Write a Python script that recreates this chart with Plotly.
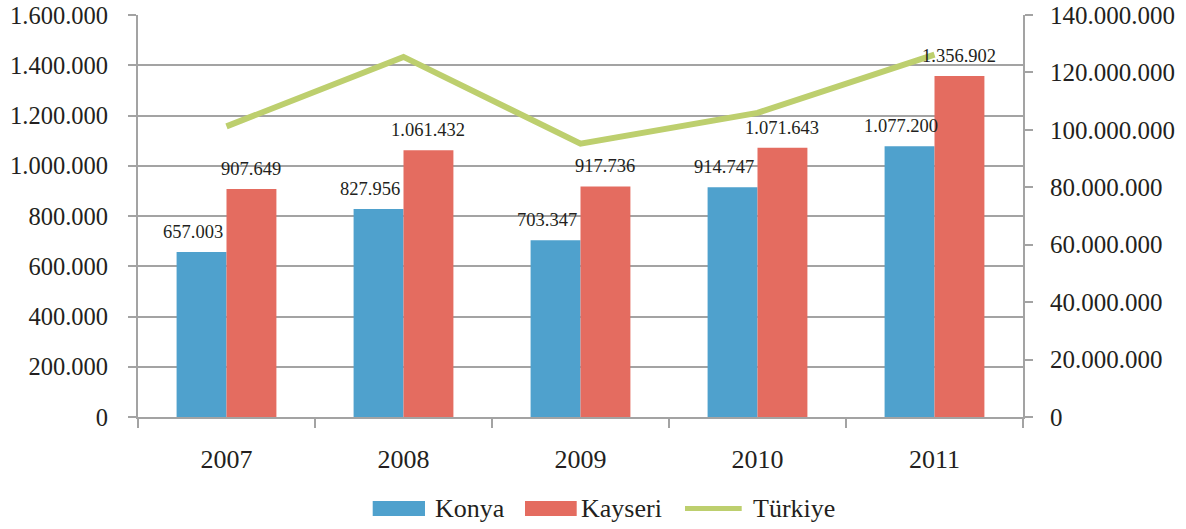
import plotly.graph_objects as go

# Yearly figures
years = ["2007", "2008", "2009", "2010", "2011"]
konya = [657003, 827956, 703347, 914747, 1077200]
kayseri = [907649, 1061432, 917736, 1071643, 1356902]
turkiye = [101200000, 125400000, 95200000, 105900000, 126200000]

series_names = ["Konya", "Kayseri", "Türkiye"]
colors = {"Konya": "#4FA1CD", "Kayseri": "#E46C60", "Türkiye": "#BDCF6E"}

W, H = 1186, 529
L, R, T, B = 138, 163, 15, 112
PW, PH = W - L - R, H - T - B

FONT = "Liberation Serif, Times New Roman, serif"
TXT = "#231F20"
AX = "#A3A3A3"


def fmt(v):
    return f"{v:,}".replace(",", ".")


def px_x(x):
    return (x - L) / PW


def px_y(y):
    return (H - B - y) / PH


fig = go.Figure()
fig.add_trace(go.Bar(x=years, y=konya, name="Konya",
                     marker=dict(color=colors["Konya"], line=dict(width=0))))
fig.add_trace(go.Bar(x=years, y=kayseri, name="Kayseri",
                     marker=dict(color=colors["Kayseri"], line=dict(width=0))))
fig.add_trace(go.Scatter(x=years, y=turkiye, name="Türkiye", yaxis="y2",
                         mode="lines",
                         line=dict(color=colors["Türkiye"], width=6)))

# value labels above the bars (x given as category index)
bar_px = PW / len(years) * (1 - 0.436) / 2
annotations = []
for i, v in enumerate(konya):
    annotations.append(dict(x=i, y=v, xref="x", yref="y", text=fmt(v),
                            showarrow=False, xshift=-bar_px / 2 - 9, yshift=20,
                            yanchor="middle",
                            font=dict(family=FONT, size=18.5, color=TXT)))
for i, v in enumerate(kayseri):
    annotations.append(dict(x=i, y=v, xref="x", yref="y", text=fmt(v),
                            showarrow=False, xshift=bar_px / 2, yshift=20,
                            yanchor="middle",
                            font=dict(family=FONT, size=18.5, color=TXT)))

# legend drawn along the bottom
shapes = []
legend_items = [
    ("Konya", "box", 372.7, 425.0, 433.0),
    ("Kayseri", "box", 525.0, 576.7, 578.7),
    ("Türkiye", "line", 685.0, 741.7, 751.0),
]
ly = 508.5
for name, kind, x0, x1, tx in legend_items:
    if kind == "box":
        shapes.append(dict(type="rect", xref="paper", yref="paper",
                           x0=px_x(x0), x1=px_x(x1),
                           y0=px_y(ly - 7.5), y1=px_y(ly + 7.5),
                           fillcolor=colors[name], line=dict(width=0)))
    else:
        shapes.append(dict(type="line", xref="paper", yref="paper",
                           x0=px_x(x0), x1=px_x(x1),
                           y0=px_y(ly), y1=px_y(ly),
                           line=dict(color=colors[name], width=5)))
    annotations.append(dict(x=px_x(tx), y=px_y(ly), xref="paper", yref="paper",
                            text=name, showarrow=False, xanchor="left",
                            yanchor="middle",
                            font=dict(family=FONT, size=26, color=TXT)))

fig.update_layout(
    width=W, height=H,
    margin=dict(l=L, r=R, t=T, b=B, pad=0, autoexpand=False),
    paper_bgcolor="white", plot_bgcolor="white",
    barmode="group", bargap=0.436, bargroupgap=0,
    separators=",.",
    showlegend=False,
    font=dict(family=FONT, color=TXT),
    xaxis=dict(type="category", range=[-0.5, len(years) - 0.5],
               automargin=False,
               showgrid=False, showline=True,
               linecolor=AX, linewidth=2, ticks="outside",
               tickson="boundaries", ticklen=9, tickcolor=AX, tickwidth=2,
               tickangle=0,
               tickfont=dict(family=FONT, size=26, color=TXT),
               ticklabelstandoff=18),
    yaxis=dict(range=[0, 1600000], dtick=200000, tickformat=",d",
               automargin=False,
               showgrid=True, gridcolor=AX, gridwidth=2,
               showline=True, linecolor=AX, linewidth=2,
               ticks="outside", ticklen=8, tickcolor=AX, tickwidth=2,
               zeroline=False,
               tickfont=dict(family=FONT, size=24.5, color=TXT),
               ticklabelstandoff=15),
    yaxis2=dict(range=[0, 140000000], dtick=20000000, tickformat=",d",
                automargin=False,
                overlaying="y", side="right", showgrid=False,
                showline=True, linecolor=AX, linewidth=2,
                ticks="outside", ticklen=8, tickcolor=AX, tickwidth=2,
                zeroline=False,
                tickfont=dict(family=FONT, size=25, color=TXT),
                ticklabelstandoff=12),
    shapes=shapes,
    annotations=annotations,
)

fig.write_html("out.html")
